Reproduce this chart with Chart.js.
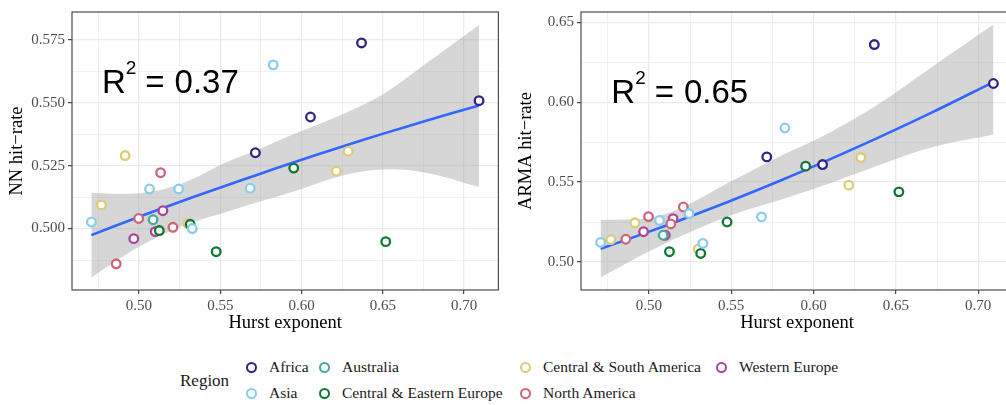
<!DOCTYPE html>
<html>
<head>
<meta charset="utf-8">
<script src="https://cdn.jsdelivr.net/npm/chart.js@4.4.1/dist/chart.umd.min.js"></script>
<style>
  html, body { margin: 0; padding: 0; background: #fff; overflow: hidden; width: 1006px; height: 405px; }
  #wrap { position: relative; width: 1006px; height: 405px; overflow: hidden; }
  #leftChart { position: absolute; left: 0; top: 0; }
  #rightChart { position: absolute; left: 505px; top: 0; }
  .legend-title { position: absolute; left: 180px; top: 370px; font: 17px "Liberation Serif", serif; color: #1a1a1a; line-height: 22px; }
  .legend-grid { position: absolute; left: 246px; top: 354px; display: grid; grid-auto-flow: column;
    grid-template-rows: 26px 26px; grid-template-columns: 73px 201px 196px auto; }
  .legend-item { display: flex; align-items: center; height: 26px; font: 15.5px "Liberation Serif", serif; color: #1a1a1a; white-space: nowrap; }
  .legend-dot { width: 11px; height: 11px; box-sizing: border-box; border-radius: 50%; border: 2.3px solid; margin-right: 12px; }
</style>
</head>
<body>
<div id="wrap">
  <canvas id="leftChart" width="505" height="340"></canvas>
  <canvas id="rightChart" width="520" height="340"></canvas>
  <div class="legend-title">Region</div>
  <div class="legend-grid" id="legend"></div>
</div>
<script>
// regions and colours (legend order)
const regions = ['Africa', 'Asia', 'Australia', 'Central & Eastern Europe', 'Central & South America', 'North America', 'Western Europe'];
const regionColors = ['#332288', '#88CCEE', '#44AA99', '#117733', '#DDCC77', '#CC6677', '#AA4499'];

// one entry per country
const pointRegion = ['Asia', 'Central & South America', 'North America', 'Central & South America', 'Western Europe',
  'North America', 'Asia', 'Australia', 'Western Europe', 'Central & Eastern Europe', 'North America', 'Western Europe',
  'North America', 'Asia', 'Central & South America', 'Central & Eastern Europe', 'Asia', 'Central & Eastern Europe',
  'Asia', 'Africa', 'Asia', 'Central & Eastern Europe', 'Africa', 'Central & South America', 'Central & South America',
  'Africa', 'Central & Eastern Europe', 'Africa'];
const hurst = [0.4707, 0.4769, 0.4860, 0.4915, 0.4968, 0.4998, 0.5065, 0.5087, 0.5100, 0.5125, 0.5133, 0.5147,
  0.5209, 0.5244, 0.5300, 0.5315, 0.5328, 0.5475, 0.5684, 0.5716, 0.5826, 0.5952, 0.6055, 0.6214, 0.6287,
  0.6369, 0.6518, 0.7092];
const nnHitRate = [0.5026, 0.5094, 0.4860, 0.5290, 0.4960, 0.5040, 0.5157, 0.5035, 0.4988, 0.4992, 0.5222, 0.5071,
  0.5005, 0.5157, 0.5020, 0.5017, 0.5000, 0.4908, 0.5160, 0.5301, 0.5650, 0.5240, 0.5443, 0.5228, 0.5307,
  0.5737, 0.4948, 0.5508];
const armaHitRate = [0.5122, 0.5140, 0.5142, 0.5245, 0.5189, 0.5284, 0.5260, 0.5167, 0.5167, 0.5064, 0.5238, 0.5271,
  0.5344, 0.5303, 0.5080, 0.5053, 0.5116, 0.5250, 0.5282, 0.5658, 0.5839, 0.5600, 0.5610, 0.5481, 0.5654,
  0.6362, 0.5439, 0.6118];

// smoother fit + confidence band
const nnFitX = [0.4707, 0.4925, 0.5127, 0.5330, 0.5533, 0.5734, 0.5917, 0.6261, 0.6503, 0.6766, 0.7092];
const nnFit = [0.4974, 0.5028, 0.5077, 0.5124, 0.5170, 0.5215, 0.5255, 0.5328, 0.5377, 0.5428, 0.5489];
const nnUpper = [0.5142, 0.5138, 0.5152, 0.5197, 0.5262, 0.5314, 0.5366, 0.5456, 0.5534, 0.5655, 0.5808];
const nnLower = [0.4806, 0.4899, 0.4970, 0.5025, 0.5065, 0.5105, 0.5140, 0.5212, 0.5235, 0.5222, 0.5165];

const armaFitX = [0.4707, 0.4990, 0.5190, 0.5490, 0.5800, 0.6060, 0.6400, 0.6710, 0.7092];
const armaFit = [0.5082, 0.5185, 0.5261, 0.5380, 0.5510, 0.5625, 0.5782, 0.5932, 0.6127];
const armaUpper = [0.5263, 0.5275, 0.5335, 0.5500, 0.5664, 0.5790, 0.5993, 0.6215, 0.6487];
const armaLower = [0.4903, 0.5060, 0.5160, 0.5290, 0.5390, 0.5479, 0.5608, 0.5716, 0.5798];

// axis ticks
const xTicks = [0.50, 0.55, 0.60, 0.65, 0.70];
const xMinor = [0.475, 0.525, 0.575, 0.625, 0.675];
const nnTicks = [0.500, 0.525, 0.550, 0.575];
const nnMinor = [0.4875, 0.5125, 0.5375, 0.5625];
const armaTicks = [0.50, 0.55, 0.60, 0.65];
const armaMinor = [0.525, 0.575, 0.625];

const r2Labels = ['0.37', '0.65'];
const r2X = [0.4772, 0.4772];
const r2Y = [0.5538, 0.5998];

const serif = '"Liberation Serif", "Times New Roman", serif';

const isMajor = (v, majors) => majors.some(m => Math.abs(m - v) < 1e-7);

const borderPlugin = {
    id: 'panelBorder',
    afterDraw(chart) {
        const { ctx, chartArea: a } = chart;
        ctx.save();
        ctx.strokeStyle = '#4d4d4d';
        ctx.lineWidth = 1.2;
        ctx.strokeRect(a.left, a.top, a.right - a.left, a.bottom - a.top);
        ctx.restore();
    }
};

const r2Plugin = {
    id: 'r2',
    afterDraw(chart, args, opts) {
        const { ctx, scales } = chart;
        const x = scales.x.getPixelForValue(opts.x);
        const y = scales.y.getPixelForValue(opts.y);
        const big = '33px "Liberation Sans", Arial, sans-serif';
        ctx.save();
        ctx.fillStyle = '#000';
        ctx.textBaseline = 'alphabetic';
        ctx.textAlign = 'left';
        ctx.font = big;
        ctx.fillText('R', x, y);
        let cx = x + ctx.measureText('R').width;
        ctx.font = '19px "Liberation Sans", Arial, sans-serif';
        ctx.fillText('2', cx, y - 19);
        cx += ctx.measureText('2').width + 9;
        ctx.font = big;
        ctx.fillText('=', cx, y);
        cx += ctx.measureText('=').width + 10;
        ctx.fillText(opts.text, cx, y);
        ctx.restore();
    }
};

function makeAxis(min, max, majors, minors, digits, extra) {
    const all = majors.concat(minors).sort((a, b) => a - b);
    return Object.assign({
        type: 'linear',
        min: min,
        max: max,
        afterBuildTicks: scale => { scale.ticks = all.map(v => ({ value: v })); },
        ticks: {
            autoSkip: false,
            maxRotation: 0,
            color: '#4d4d4d',
            font: { family: serif, size: 15 },
            callback: v => isMajor(v, majors) ? v.toFixed(digits) : ''
        },
        grid: {
            color: '#ebebeb',
            lineWidth: c => (c.tick && isMajor(c.tick.value, majors)) ? 1.3 : 0.7,
            tickColor: c => (c.tick && isMajor(c.tick.value, majors)) ? '#333333' : 'rgba(0,0,0,0)',
            tickLength: 4,
            tickWidth: 1.1,
            drawTicks: true
        },
        border: { display: false }
    }, extra);
}

function makeChart(canvasId, yValues, fitX, fit, upper, lower, yMin, yMax, yMajor, yMinorArr, yDigits, yTitle, yAxisWidth, yTitlePad, padRight, r2Index) {
    const pts = (xs, ys) => xs.map((x, i) => ({ x: x, y: ys[i] }));
    const datasets = [
        {
            data: pts(fitX, upper), showLine: true, fill: '+1', tension: 0.35,
            backgroundColor: 'rgba(153,153,153,0.4)', borderWidth: 0, pointRadius: 0, order: 3
        },
        {
            data: pts(fitX, lower), showLine: true, fill: false, tension: 0.35,
            borderWidth: 0, pointRadius: 0, order: 3
        },
        {
            data: pts(fitX, fit), showLine: true, fill: false, tension: 0.35,
            borderColor: '#3366FF', borderWidth: 2.6, pointRadius: 0, order: 2
        }
    ];
    regions.forEach((r, ri) => {
        const data = [];
        hurst.forEach((h, i) => { if (pointRegion[i] === r) data.push({ x: h, y: yValues[i] }); });
        datasets.push({
            label: r, data: data, showLine: false, order: 1,
            pointRadius: 4.3, pointHoverRadius: 4.3, pointBorderWidth: 2.3,
            borderColor: regionColors[ri], backgroundColor: '#ffffff'
        });
    });

    return new Chart(document.getElementById(canvasId), {
        type: 'scatter',
        data: { datasets: datasets },
        options: {
            responsive: false,
            animation: false,
            events: [],
            layout: { padding: { top: 7, right: padRight, bottom: 0, left: 0 } },
            plugins: {
                legend: { display: false },
                tooltip: { enabled: false },
                r2: { x: r2X[r2Index], y: r2Y[r2Index], text: r2Labels[r2Index] }
            },
            scales: {
                x: makeAxis(0.4588, 0.7211, xTicks, xMinor, 2, {
                    position: 'bottom',
                    afterFit: s => { s.height = 50; },
                    title: { display: true, text: 'Hurst exponent', color: '#000',
                        font: { family: serif, size: 18.5 }, padding: { top: 0, bottom: 6 } }
                }),
                y: makeAxis(yMin, yMax, yMajor, yMinorArr, yDigits, {
                    position: 'left',
                    afterFit: s => { s.width = yAxisWidth; },
                    title: { display: true, text: yTitle, color: '#000',
                        font: { family: serif, size: 18.5 }, padding: { top: yTitlePad, bottom: 0 } }
                })
            }
        },
        plugins: [borderPlugin, r2Plugin]
    });
}

makeChart('leftChart', nnHitRate, nnFitX, nnFit, nnUpper, nnLower, 0.4756, 0.5860,
    nnTicks, nnMinor, 3, 'NN hit\u2212rate', 72, 6.4, 2, 0);
makeChart('rightChart', armaHitRate, armaFitX, armaFit, armaUpper, armaLower, 0.4824, 0.6566,
    armaTicks, armaMinor, 2, 'ARMA hit\u2212rate', 76, 10.4, 12, 1);

// legend, column by column like ggplot
const legend = document.getElementById('legend');
regions.forEach((r, i) => {
    const item = document.createElement('div');
    item.className = 'legend-item';
    const dot = document.createElement('span');
    dot.className = 'legend-dot';
    dot.style.borderColor = regionColors[i];
    const label = document.createElement('span');
    label.textContent = r;
    item.appendChild(dot);
    item.appendChild(label);
    legend.appendChild(item);
});
</script>
</body>
</html>
